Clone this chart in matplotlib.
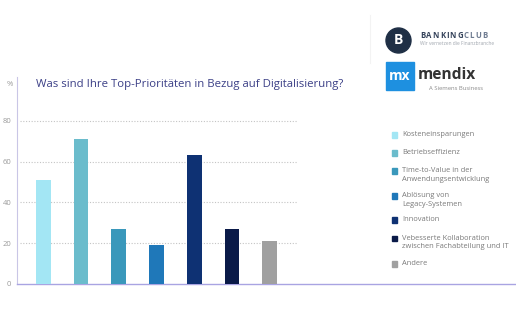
import matplotlib
matplotlib.use("Agg")
import matplotlib.pyplot as plt
from matplotlib.patches import Rectangle, Circle

plt.rcParams["font.family"] = ["Open Sans", "DejaVu Sans"]

# Survey answers (share of respondents, %)
categories = [
    "Kosteneinsparungen",
    "Betriebseffizienz",
    "Time-to-Value in der\nAnwendungsentwicklung",
    "Ablösung von\nLegacy-Systemen",
    "Innovation",
    "Vebesserte Kollaboration\nzwischen Fachabteilung und IT",
    "Andere",
]
values = [51, 71, 27, 19, 63, 27, 21]
colors = ["#a3e6f4", "#6bbccc", "#3a98bb", "#1f78b9", "#0e3173", "#0a1a48", "#a0a0a0"]
yticks = [0, 20, 40, 60, 80]
title = "Was sind Ihre Top-Prioritäten in Bezug auf Digitalisierung?"

W, H = 516, 323
fig = plt.figure(figsize=(W / 100, H / 100), dpi=100)
fig.patch.set_facecolor("white")
renderer = fig.canvas.get_renderer()

def fx(px):
    return px / W

def fy(py):
    return 1 - py / H

def advance(s, **kw):
    """Width in px of a string set with the given font options."""
    if not s:
        return 0.0
    t = fig.text(0, 0, s + "|", **kw)
    w_full = t.get_window_extent(renderer).width
    t.set_text("|")
    w_bar = t.get_window_extent(renderer).width
    t.remove()
    return w_full - w_bar

def tracked_text(x_px, y_px, s, tracking, **kw):
    """Draw a string letter by letter with extra spacing; returns end x in px."""
    for i, ch in enumerate(s):
        pos = x_px + advance(s[:i], **kw) + i * tracking
        fig.text(fx(pos), fy(y_px), ch, ha="left", va="center", **kw)
    return x_px + advance(s, **kw) + len(s) * tracking

# plot area: from x=17 to right edge, y from 77 to 284 px
ax_l, ax_r, ax_t, ax_b = 17, 516, 77, 284
ax = fig.add_axes([fx(ax_l), fy(ax_b), fx(ax_r - ax_l), (ax_b - ax_t) / H])

step = 37.75
x0 = 43.3
xs = list(range(len(values)))
ax.bar(xs, values, width=0.39, color=colors, zorder=3)

ax.set_xlim((ax_l - x0) / step, (ax_r - x0) / step)
ax.set_ylim(0, (ax_b - ax_t) / 40.8 * 20)

grid_end = (297 - ax_l) / (ax_r - ax_l)
for v in yticks[1:]:
    ax.axhline(v, xmin=0.006, xmax=grid_end, color="#c4c4c4", lw=0.8,
               linestyle=(0, (1, 1.5)), zorder=1)

ax.set_yticks(yticks)
ax.set_yticklabels([str(t) for t in yticks])
ax.tick_params(axis="y", length=0, pad=4, labelsize=5.5, labelcolor="#9a9a9a")
ax.set_xticks([])
for s in ["top", "right"]:
    ax.spines[s].set_visible(False)
ax.spines["left"].set_color("#c9c6e6")
ax.spines["left"].set_linewidth(0.8)
ax.spines["bottom"].set_color("#a9a4e2")
ax.spines["bottom"].set_linewidth(1.0)
ax.patch.set_alpha(0)

# unit label and title
fig.text(fx(10), fy(85), "%", ha="center", va="center", fontsize=5.5, color="#9a9a9a")
fig.text(fx(36), fy(85), title, ha="left", va="center", fontsize=8.2, color="#3b3f86")

# legend
entry_y = [135, 153, 171, 196, 220, 238.5, 264]
for name, col, yy in zip(categories, colors, entry_y):
    fig.patches.append(Rectangle((fx(391.5), fy(yy + 2.6)), fx(5.5), 5.5 / H,
                                 transform=fig.transFigure, color=col))
    fig.text(fx(402.5), fy(yy - 3.8), name, ha="left", va="top", fontsize=5.45,
             color="#7a7a7a", linespacing=1.35)

# faint separator near the logo block
fig.add_artist(plt.Line2D([fx(370), fx(370)], [fy(15), fy(63)],
                          transform=fig.transFigure, color="#f3f3f3", lw=0.8))

# BankingClub logo
badge = Circle((398.5 / 100, (H - 40.5) / 100), 0.125, transform=fig.dpi_scale_trans,
               color="#1f2f45")
fig.patches.append(badge)
fig.text(fx(398.5), fy(40.5), "B", ha="center", va="center", fontsize=10,
         fontweight="bold", color="white")
word_kw = dict(fontsize=5.6, fontweight="bold")
end = tracked_text(420, 35.8, "BANKING", 1.0, color="#34425a", **word_kw)
tracked_text(end, 35.8, "CLUB", 1.0, color="#6e7b90", **word_kw)
fig.text(fx(420), fy(43.5), "Wir vernetzen die Finanzbranche", ha="left", va="center",
         fontsize=3.5, color="#a0a6ae")

# Mendix logo
fig.patches.append(Rectangle((fx(386), fy(89.5)), fx(27.5), 27.5 / H,
                             transform=fig.transFigure, color="#1e90e0"))
fig.text(fx(399.7), fy(76), "mx", ha="center", va="center", fontsize=10,
         fontweight="bold", color="white")
fig.text(fx(418), fy(75), "mendix", ha="left", va="center", fontsize=11.2,
         fontweight="bold", color="#333333")
fig.text(fx(429), fy(88.3), "A Siemens Business", ha="left", va="center",
         fontsize=4.2, color="#8a8a8a")

fig.savefig("out.png", dpi=100, facecolor="white")
